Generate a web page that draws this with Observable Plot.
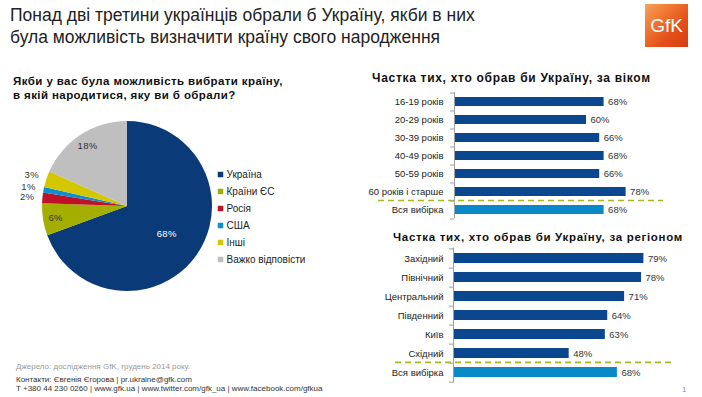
<!DOCTYPE html>
<html><head><meta charset="utf-8">
<script src="https://cdn.jsdelivr.net/npm/d3@7"></script>
<script src="https://cdn.jsdelivr.net/npm/@observablehq/plot@0.6"></script>
<style>
body{margin:0;background:#fff;}
#root{position:relative;width:702px;height:397px;overflow:hidden;font-family:Arial,"Liberation Sans",sans-serif;color:#222;}
.abs{position:absolute;white-space:nowrap;}
.abs svg{display:block;overflow:visible;}
#title{left:10px;top:4px;font-family:"Liberation Sans Narrow","Arial Narrow",Arial,sans-serif;font-size:17.5px;line-height:22px;color:#222;}
#pieTitle{left:13px;top:75px;font-weight:bold;font-size:11.5px;line-height:13.5px;letter-spacing:0.4px;color:#111;}
.barTitle{font-weight:bold;letter-spacing:0.7px;color:#111;line-height:14px;}
#logo{left:645px;top:4px;width:43px;height:43px;background:linear-gradient(135deg,#f7a35c 0%,#ef7430 35%,#e2501a 65%,#d63d10 100%);color:#fff;font-family:"Liberation Sans Narrow",Arial,sans-serif;font-size:19px;text-align:center;line-height:43px;overflow:hidden;}
.src{font-family:"Liberation Sans Narrow",Arial,sans-serif;font-size:8px;line-height:10px;color:#9a9a9a;}
.contact{font-family:Arial,"Liberation Sans",sans-serif;font-size:8px;line-height:8.6px;color:#333;}
.pg{font-family:Arial,"Liberation Sans",sans-serif;font-size:7.5px;line-height:9px;color:#888;}
</style></head><body><div id="root"></div>
<script>
// ---- data ----
const mainTitle = ["Понад дві третини українців обрали б Україну, якби в них", "була можливість визначити країну свого народження"];
const pieTitle = ["Якби у вас була можливість вибрати країну,", "в якій народитися, яку ви б обрали?"];
const pieCategories = ["Україна", "Країни ЄС", "Росія", "США", "Інші", "Важко відповісти"];
const pieValues = [68, 6, 2, 1, 3, 18];
const pieColors = ["#0b3a78", "#a4ae00", "#bf1229", "#0d8fd1", "#d4c700", "#bfbfbf"];

const ageTitle = "Частка тих, хто обрав би Україну, за віком";
const ageCategories = ["16-19 років", "20-29 років", "30-39 років", "40-49 років", "50-59 років", "60 років і старше", "Вся вибірка"];
const ageValues = [68, 60, 66, 68, 66, 78, 68];

const regionTitle = "Частка тих, хто обрав би Україну, за регіоном";
const regionCategories = ["Західний", "Північний", "Центральний", "Південний", "Київ", "Східний", "Вся вибірка"];
const regionValues = [79, 78, 71, 64, 63, 48, 68];

const totalLabel = "Вся вибірка";
const barGroups = ["group", "total"];
const barColors = ["#0b478f", "#0a89c9"];

const sourceText = "Джерело: дослідження GfK, грудень 2014 року.";
const contactLines = ["Контакти: Євгенія Єгорова | pr.ukraine@gfk.com", "T +380 44 230 0260 | www.gfk.ua | www.twitter.com/gfk_ua | www.facebook.com/gfkua"];
const pageNumber = "1";

// ---- layout helpers ----
const root = document.getElementById("root");
function place(el, left, top, id, cls) {
  const d = document.createElement("div");
  d.className = "abs" + (cls ? " " + cls : "");
  if (id) d.id = id;
  d.style.left = left + "px"; d.style.top = top + "px";
  if (typeof el === "string") d.innerHTML = el; else d.appendChild(el);
  root.appendChild(d);
  return d;
}

place(mainTitle.join("<br>"), 10, 4, "title");
place("GfK", 645, 4, "logo");
place(pieTitle.join("<br>"), 13, 75, "pieTitle");

// ---- pie ----
const colorScale = Plot.scale({color: {domain: pieCategories, range: pieColors}});
const R = 85, cx = 127, cy = 96;
function pieMark() {
  const g = d3.create("svg:g").attr("transform", `translate(${cx},${cy})`);
  const arcs = d3.pie().sort(null).value(d => d)(pieValues);
  const arc = d3.arc().innerRadius(0).outerRadius(R);
  g.selectAll("path").data(arcs).join("path")
    .attr("d", arc)
    .attr("fill", (d, i) => colorScale.apply(pieCategories[i]));
  const labelR = v => v >= 50 ? R * 0.57 : v >= 5 ? R * 0.85 : R * 1.18;
  g.selectAll("text").data(arcs).join("text")
    .attr("transform", d => {
      const r = labelR(d.value);
      const c = d3.arc().innerRadius(r).outerRadius(r).centroid(d);
      return `translate(${c[0]},${c[1]})`;
    })
    .attr("text-anchor", "middle")
    .attr("dy", "0.35em")
    .attr("font-size", 9.5)
    .attr("letter-spacing", 0.4)
    .attr("fill", d => d.value >= 50 ? "#fff" : "#333")
    .text(d => d.value + "%");
  return g.node();
}

const pie = Plot.plot({
  width: 330, height: 200, margin: 0,
  style: {fontFamily: "Arial, 'Liberation Sans', sans-serif", fontSize: "10px", overflow: "visible"},
  x: {domain: [0, 1], range: [220, 320], axis: null},
  y: {type: "point", domain: pieCategories, range: [64, 149], padding: 0, axis: null},
  color: {domain: pieCategories, range: pieColors},
  marks: [
    pieMark,
    Plot.dot(pieCategories, {x: 0, y: d => d, fill: d => d, symbol: "square", r: 3.1}),
    Plot.text(pieCategories, {x: 0, y: d => d, text: d => d, dx: 6, textAnchor: "start", fill: "#222", fontSize: 10, letterSpacing: 0.4})
  ]
});
place(pie, 0, 110);

// ---- bar charts ----
function barChart({cats, vals, width, height, marginLeft, marginRight, marginTop, marginBottom, xRange, yRange, padding, labelDx}) {
  const idx = d3.range(cats.length);
  const step = (yRange[1] - yRange[0]) / cats.length;
  return Plot.plot({
    width, height, marginLeft, marginRight, marginTop, marginBottom,
    style: {fontFamily: "Arial, 'Liberation Sans', sans-serif", fontSize: "9.5px", overflow: "visible"},
    x: {domain: [0, 100], range: xRange, axis: null},
    y: {type: "band", domain: cats, range: yRange, paddingInner: padding, paddingOuter: padding / 2, axis: null},
    color: {domain: barGroups, range: barColors},
    marks: [
      Plot.ruleY([totalLabel], {y: d => d, dy: -step / 2 - 0.5, stroke: "#a9b81c", strokeWidth: 1.6, strokeDasharray: "6,4"}),
      Plot.barX(idx, {x: i => vals[i], y: i => cats[i], fill: i => cats[i] === totalLabel ? "total" : "group"}),
      Plot.ruleX([0], {stroke: "#a0a0a0", strokeWidth: 1}),
      Plot.ruleY(cats, {y: d => d, dy: step / 2, x1: 0, x2: 0, insetLeft: -4, stroke: "#a0a0a0"}),
      Plot.ruleY([cats[0]], {y: d => d, dy: -step / 2, x1: 0, x2: 0, insetLeft: -4, stroke: "#a0a0a0"}),
      Plot.text(cats, {x: 0, y: d => d, text: d => d, dx: labelDx, textAnchor: "end", fill: "#222", letterSpacing: 0.4}),
      Plot.text(idx, {x: i => vals[i], y: i => cats[i], text: i => vals[i] + "%", dx: 4, textAnchor: "start", fill: "#333", letterSpacing: 0.3})
    ]
  });
}

const t1 = place(ageTitle, 372, 71, null, "barTitle"); t1.style.fontSize = "12px";
place(barChart({cats: ageCategories, vals: ageValues, width: 342, height: 131,
  marginLeft: 18, marginRight: 39, marginTop: 4, marginBottom: 1,
  xRange: [94, 314], yRange: [4, 130], padding: 0.5, labelDx: -11}), 360, 88);

const t2 = place(regionTitle, 393, 230, null, "barTitle"); t2.style.fontSize = "11.5px";
place(barChart({cats: regionCategories, vals: regionValues, width: 342, height: 140,
  marginLeft: 35, marginRight: 27, marginTop: 3.5, marginBottom: 1.4,
  xRange: [93, 334], yRange: [3.5, 138.6], padding: 0.48, labelDx: -10}), 360, 244);

// ---- footer ----
place(sourceText, 16, 362, null, "src");
place(contactLines.join("<br>"), 16, 376, null, "contact");
place(pageNumber, 682, 385, null, "pg");
</script></body></html>
